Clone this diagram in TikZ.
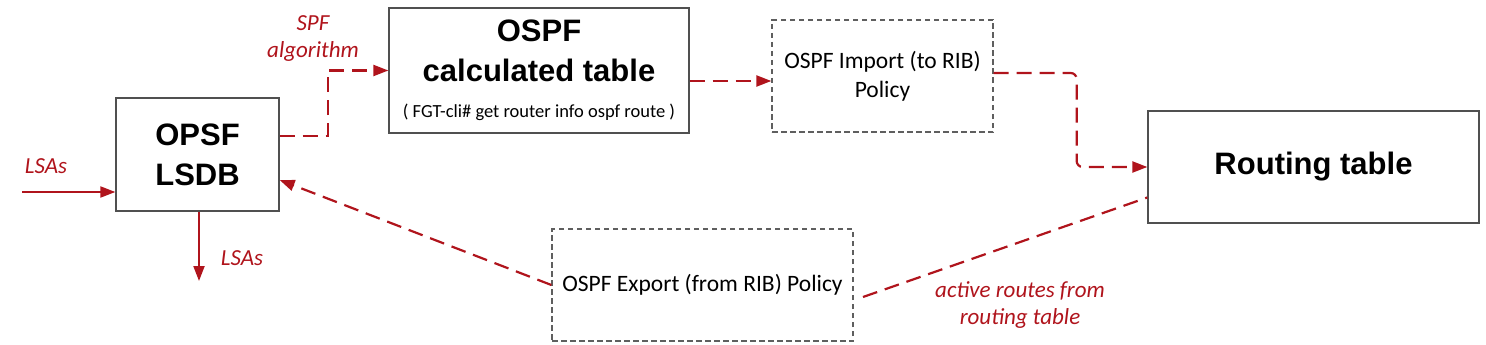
\documentclass[tikz,border=0pt]{standalone}
\usepackage{fontspec}
\setmainfont{Carlito}
\newfontfamily\headfont{Liberation Sans}
\usetikzlibrary{arrows.meta,calc}
\definecolor{ared}{RGB}{176,20,28}
\definecolor{boxgray}{RGB}{80,80,80}
\definecolor{dashgray}{RGB}{95,95,95}
\tikzset{
 solidbox/.style={draw=boxgray, line width=1.3pt, align=center, inner sep=0pt},
 dashbox/.style={draw=dashgray, line width=1.3pt, dash pattern=on 5.5pt off 3.5pt, align=center, inner sep=0pt,
   font=\fontsize{23.5}{29}\selectfont},
 bigtext/.style={font=\headfont\bfseries\fontsize{31}{40}\selectfont},
 redlabel/.style={text=ared, font=\itshape\fontsize{23}{27}\selectfont, align=center, inner sep=0pt},
 flow/.style={draw=ared, line width=2.2pt, dash pattern=on 15pt off 8pt, -{Triangle[length=15pt,width=11pt]}},
 plainflow/.style={draw=ared, line width=2.2pt, dash pattern=on 15pt off 8pt},
 solidflow/.style={draw=ared, line width=2pt, -{Triangle[length=15pt,width=11pt]}},
}
\begin{document}
\begin{tikzpicture}[x=1pt,y=-1pt]
\useasboundingbox (0,0) rectangle (1486,345);

% boxes
\node[solidbox, bigtext, minimum width=163pt, minimum height=113pt] (lsdb) at (197.5,154.5) {OPSF\\LSDB};
\node[solidbox, bigtext, minimum width=300pt, minimum height=125pt] (calc) at (539,70.5)
  {OSPF\\calculated table\\[-4pt]{\normalfont\fontsize{18.5}{22}\selectfont ( FGT-cli\# get router info ospf route )}};
\node[dashbox, minimum width=221pt, minimum height=112pt] (import) at (882.5,76) {OSPF Import (to RIB)\\Policy};
\node[solidbox, bigtext, minimum width=331pt, minimum height=112pt] (routing) at (1313.5,167) {Routing table};
\node[dashbox, minimum width=301pt, minimum height=112pt] (export) at (702.5,285) {OSPF Export (from RIB) Policy};

% free ends
\coordinate (lsain) at (22,192);
\coordinate (lsaout) at (199,281);
\coordinate (actend) at (863,297);

% connectors
\draw[solidflow] (lsain) -- ([yshift=-37.5pt]lsdb.west);
\draw[solidflow] ([xshift=1.5pt]lsdb.south) -- (lsaout);
\draw[flow] ([yshift=18.5pt]lsdb.east) -- ++(48,0) |- (calc.west);
\draw[flow] ([yshift=-10.5pt]calc.east) -- ([yshift=-10.5pt]calc.east -| import.west);
\draw[flow, rounded corners=6pt] ([yshift=3pt]import.east) -- ++(83,0) |- (routing.west);
\draw[plainflow] (actend) -- ([yshift=-30.5pt]routing.west);
\draw[flow] (export.west) -- ([yshift=-25.5pt]lsdb.east);

% labels
\node[redlabel] (spf) at (313,38.5) {SPF\\algorithm};
\node[redlabel, anchor=base] (lsainlab) at (46,173) {LSAs};
\node[redlabel, anchor=base] (lsaoutlab) at (242,265) {LSAs};
\node[redlabel] (actlab) at (1020,305) {active routes from\\routing table};
\end{tikzpicture}
\end{document}
